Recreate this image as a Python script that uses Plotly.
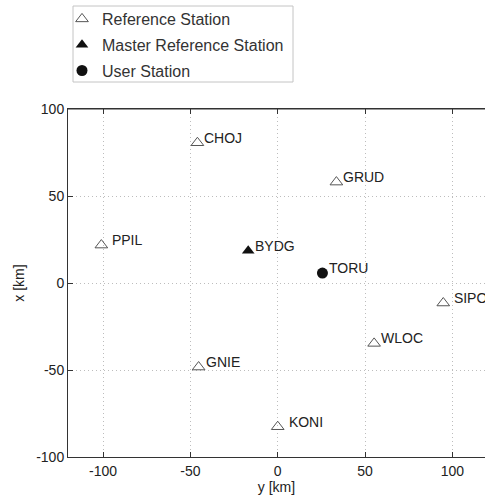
import plotly.graph_objects as go

# Station coordinates (y = east [km], x = north [km])
ref_names = ["CHOJ", "GRUD", " PPIL", " SIPO", "WLOC", "GNIE", " KONI"]
ref_y = [-46, 33.6, -101, 94.8, 55.2, -45.3, 0]
ref_x = [80.6, 58, 21.8, -11.5, -34.7, -48.3, -82.6]

master_names = ["BYDG"]
master_y = [-16.9]
master_x = [18.6]

user_names = ["TORU"]
user_y = [25.6]
user_x = [5.7]

x_ticks = [-100, -50, 0, 50, 100]
x_ticktext = ["-100", "-50", "0", "50", "100"]
y_ticks = [-100, -50, 0, 50, 100]
y_ticktext = ["-100", "-50", "0", "50", "100"]

FONT = "Liberation Sans, Arial, sans-serif"
W, H = 485, 497
ML, MR, MT, MB = 68, 0, 109, 40
PW, PH = W - ML - MR, H - MT - MB


def px_x(p):
    return (p - ML) / PW


def px_y(p):
    return (H - MB - p) / PH


fig = go.Figure()
fig.add_trace(go.Scatter(
    x=ref_y, y=ref_x, mode="markers", name="Reference Station",
    marker=dict(symbol="triangle-up-open", size=11, color="#555",
                line=dict(width=1, color="#555")),
    legendgroup="a"))
fig.add_trace(go.Scatter(
    x=master_y, y=master_x, mode="markers", name="Master Reference Station",
    marker=dict(symbol="triangle-up", size=11, color="#111"),
    legendgroup="b"))
fig.add_trace(go.Scatter(
    x=user_y, y=user_x, mode="markers", name="User Station",
    marker=dict(symbol="circle", size=11, color="#111"),
    legendgroup="c"))

for names, ys, xs in [(ref_names, ref_y, ref_x), (master_names, master_y, master_x),
                      (user_names, user_y, user_x)]:
    for n, yy, xx in zip(names, ys, xs):
        fig.add_annotation(x=yy, y=xx, text=n, showarrow=False,
                           xanchor="left", yanchor="middle", xshift=5, yshift=5,
                           font=dict(family=FONT, size=14, color="#222"))

# top frame line
fig.add_shape(type="line", xref="paper", yref="paper", x0=0, x1=1, y0=1, y1=1,
              line=dict(color="#333", width=1))
# legend box
fig.add_shape(type="rect", xref="paper", yref="paper",
              x0=px_x(73), x1=px_x(293), y0=px_y(82), y1=px_y(6),
              line=dict(color="#c4c4c4", width=1), fillcolor="white", layer="below")

fig.update_layout(
    width=W, height=H,
    margin=dict(l=ML, r=MR, t=MT, b=MB),
    paper_bgcolor="white", plot_bgcolor="white",
    font=dict(family=FONT, size=14, color="#222"),
    showlegend=True,
    legend=dict(x=px_x(62), y=px_y(2), xanchor="left", yanchor="top",
                bgcolor="rgba(0,0,0,0)", borderwidth=0,
                font=dict(family=FONT, size=16, color="#333"),
                tracegroupgap=2, itemwidth=30),
    xaxis=dict(range=[-120.1, 118.7], tickvals=x_ticks, ticktext=x_ticktext,
               ticks="inside", ticklen=5,
               tickcolor="#333", showline=True, linecolor="#333", linewidth=1,
               mirror="ticks", showgrid=True, gridcolor="#bdbdbd",
               griddash="1px,3px", gridwidth=1, zeroline=False,
               title=dict(text="y [km]", standoff=2, font=dict(size=14)),
               ticklabelstandoff=1),
    yaxis=dict(range=[-100, 100], tickvals=y_ticks, ticktext=y_ticktext,
               ticks="inside", ticklen=5,
               tickcolor="#333", showline=True, linecolor="#333", linewidth=1,
               mirror=False, showgrid=True, gridcolor="#bdbdbd",
               griddash="1px,3px", gridwidth=1, zeroline=False,
               title=dict(text="x [km]", standoff=8, font=dict(size=14)),
               ticklabelstandoff=0),
)

fig.write_html("out.html", config={"displayModeBar": False},
               post_script="document.body.style.margin='0';"
                           "document.body.style.overflow='hidden';")
